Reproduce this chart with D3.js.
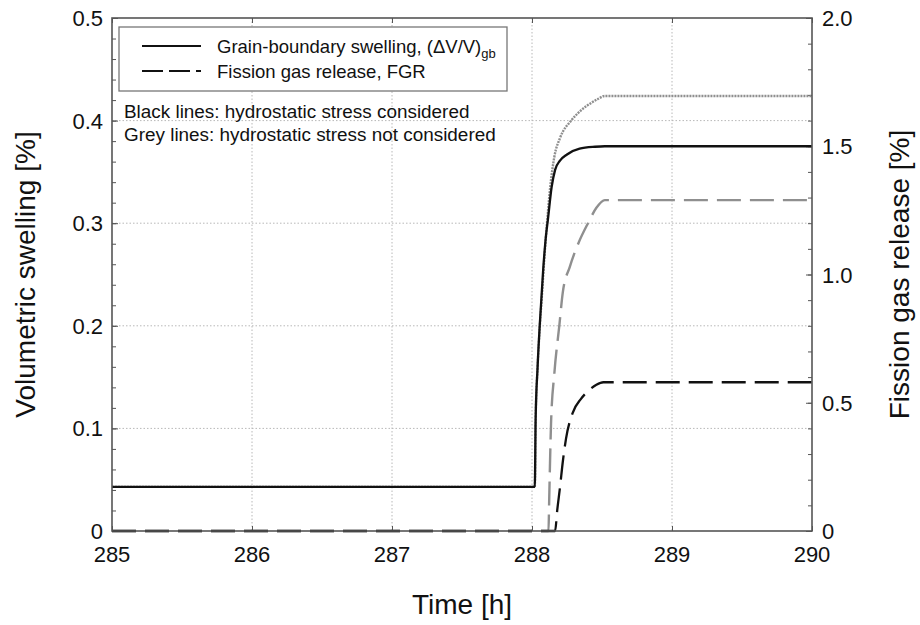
<!DOCTYPE html>
<html>
<head>
<meta charset="utf-8">
<script src="https://cdn.jsdelivr.net/npm/d3@7"></script>
<style>
  html, body { margin: 0; padding: 0; background: #fff; }
  svg { display: block; font-family: "Liberation Sans", Arial, Helvetica, sans-serif; }
</style>
</head>
<body>
<svg id="chart" width="920" height="625"></svg>
<script>
// ---------- data ----------
const timeTicks = [285, 286, 287, 288, 289, 290];
const swellTicks = [0, 0.1, 0.2, 0.3, 0.4, 0.5];
const swellTickLabels = ["0", "0.1", "0.2", "0.3", "0.4", "0.5"];
const fgrTicks = [0, 0.5, 1.0, 1.5, 2.0];
const fgrTickLabels = ["0", "0.5", "1.0", "1.5", "2.0"];

// Grain-boundary swelling, hydrostatic stress considered (black solid) [%]
const swellStressT = [285, 288.02, 288.026, 288.04, 288.055, 288.08, 288.1, 288.114, 288.14, 288.165, 288.2, 288.25, 288.34, 288.45, 288.52, 290];
const swellStressV = [0.043, 0.043, 0.109, 0.16, 0.2, 0.255, 0.288, 0.304, 0.335, 0.352, 0.361, 0.367, 0.3726, 0.3745, 0.375, 0.375];

// Grain-boundary swelling, hydrostatic stress not considered (grey solid) [%]
const swellNoStressT = [285, 288.02, 288.026, 288.04, 288.056, 288.07, 288.09, 288.107, 288.13, 288.16, 288.2, 288.28, 288.35, 288.42, 288.47, 288.52, 290];
const swellNoStressV = [0.043, 0.043, 0.109, 0.16, 0.2, 0.228, 0.27, 0.3, 0.335, 0.365, 0.383, 0.4, 0.41, 0.417, 0.421, 0.424, 0.424];

// Fission gas release, hydrostatic stress considered (black dashed) [%]
const fgrStressT = [285, 288.165, 288.18, 288.2, 288.22, 288.243, 288.29, 288.35, 288.41, 288.46, 288.51, 290];
const fgrStressV = [0, 0, 0.08, 0.17, 0.27, 0.36, 0.46, 0.515, 0.55, 0.57, 0.58, 0.58];

// Fission gas release, hydrostatic stress not considered (grey dashed) [%]
const fgrNoStressT = [285, 288.118, 288.122, 288.128, 288.136, 288.16, 288.195, 288.22, 288.27, 288.33, 288.4, 288.46, 288.52, 290];
const fgrNoStressV = [0, 0, 0.1, 0.25, 0.42, 0.617, 0.8, 0.93, 1.03, 1.12, 1.2, 1.26, 1.29, 1.29];

// ---------- layout ----------
const W = 920, H = 625;
const m = { left: 112, right: 108, top: 18, bottom: 94 };
const pw = W - m.left - m.right, ph = H - m.top - m.bottom;

const svg = d3.select("#chart");
svg.append("rect").attr("width", W).attr("height", H).attr("fill", "#fff");
const g = svg.append("g").attr("transform", `translate(${m.left},${m.top})`);

const x = d3.scaleLinear().domain([285, 290]).range([0, pw]);
const yL = d3.scaleLinear().domain([0, 0.5]).range([ph, 0]);
const yR = d3.scaleLinear().domain([0, 2.0]).range([ph, 0]);

// ---------- grid ----------
const gridCol = "#b8b8b8";
g.append("g").selectAll("line").data(timeTicks.slice(1, -1)).join("line")
  .attr("x1", d => x(d)).attr("x2", d => x(d)).attr("y1", 0).attr("y2", ph)
  .attr("stroke", gridCol).attr("stroke-width", 1).attr("stroke-dasharray", "1.5,2");
g.append("g").selectAll("line").data(swellTicks.slice(1, -1)).join("line")
  .attr("x1", 0).attr("x2", pw).attr("y1", d => yL(d)).attr("y2", d => yL(d))
  .attr("stroke", gridCol).attr("stroke-width", 1).attr("stroke-dasharray", "1.5,2");

// ---------- axes (ticks inward) ----------
const axCol = "#555";
function styleAxis(sel) {
  sel.select(".domain").remove();
  sel.selectAll(".tick line").attr("stroke", axCol).attr("stroke-width", 1);
  sel.selectAll("text").remove();
}
g.append("g").call(d3.axisRight(yL).tickValues(d3.range(0, 0.5001, 0.02)).tickSize(4)).call(styleAxis);
g.append("g").call(d3.axisRight(yL).tickValues(swellTicks).tickSize(6)).call(styleAxis);
g.append("g").attr("transform", `translate(${pw},0)`)
  .call(d3.axisLeft(yR).tickValues(d3.range(0, 2.0001, 0.1)).tickSize(4)).call(styleAxis);
g.append("g").attr("transform", `translate(${pw},0)`)
  .call(d3.axisLeft(yR).tickValues(fgrTicks).tickSize(6)).call(styleAxis);
g.append("g").attr("transform", `translate(0,${ph})`)
  .call(d3.axisTop(x).tickValues(timeTicks).tickSize(5)).call(styleAxis);
g.append("g").call(d3.axisBottom(x).tickValues(timeTicks).tickSize(5)).call(styleAxis);

// ---------- curves ----------
const lineL = d3.line().x(d => x(d[0])).y(d => yL(d[1])).curve(d3.curveMonotoneX);
const lineR = d3.line().x(d => x(d[0])).y(d => yR(d[1])).curve(d3.curveMonotoneX);
const zip = (a, b) => a.map((t, i) => [t, b[i]]);

const grey = "#8f8f8f";
g.append("path").datum(zip(fgrNoStressT, fgrNoStressV)).attr("d", lineR)
  .attr("fill", "none").attr("stroke", grey).attr("stroke-width", 2.4)
  .attr("stroke-dasharray", "24,9");
g.append("path").datum(zip(swellNoStressT, swellNoStressV)).attr("d", lineL)
  .attr("fill", "none").attr("stroke", grey).attr("stroke-width", 2.4)
  .attr("stroke-dasharray", "2,1");
g.append("path").datum(zip(fgrStressT, fgrStressV)).attr("d", lineR)
  .attr("fill", "none").attr("stroke", "#111").attr("stroke-width", 2.3)
  .attr("stroke-dasharray", "24,9");
g.append("path").datum(zip(swellStressT, swellStressV)).attr("d", lineL)
  .attr("fill", "none").attr("stroke", "#111").attr("stroke-width", 2.3);

// frame
g.append("rect").attr("width", pw).attr("height", ph)
  .attr("fill", "none").attr("stroke", axCol).attr("stroke-width", 1.6);

// ---------- tick labels ----------
const tickFont = 22;
g.append("g").selectAll("text").data(swellTicks).join("text")
  .attr("x", -9).attr("y", d => yL(d) + 8)
  .attr("text-anchor", "end").attr("font-size", tickFont).attr("fill", "#111")
  .text((d, i) => swellTickLabels[i]);
g.append("g").selectAll("text").data(fgrTicks).join("text")
  .attr("x", pw + 10).attr("y", d => yR(d) + 8)
  .attr("text-anchor", "start").attr("font-size", tickFont).attr("fill", "#111")
  .text((d, i) => fgrTickLabels[i]);
g.append("g").selectAll("text").data(timeTicks).join("text")
  .attr("x", d => x(d)).attr("y", ph + 31)
  .attr("text-anchor", "middle").attr("font-size", tickFont).attr("fill", "#111")
  .text(d => d);

// ---------- axis titles ----------
const titleFont = 28;
svg.append("text").attr("transform", `translate(35,${m.top + ph / 2}) rotate(-90)`)
  .attr("text-anchor", "middle").attr("font-size", titleFont).attr("fill", "#111")
  .text("Volumetric swelling [%]");
svg.append("text").attr("transform", `translate(909,${m.top + ph / 2}) rotate(-90)`)
  .attr("text-anchor", "middle").attr("font-size", titleFont).attr("fill", "#111")
  .text("Fission gas release [%]");
svg.append("text").attr("x", m.left + pw / 2).attr("y", 614)
  .attr("text-anchor", "middle").attr("font-size", titleFont).attr("fill", "#111")
  .text("Time [h]");

// ---------- legend ----------
const lg = svg.append("g");
lg.append("rect").attr("x", 119).attr("y", 27).attr("width", 388).attr("height", 64)
  .attr("fill", "#fff").attr("stroke", "#777").attr("stroke-width", 1.3);
lg.append("line").attr("x1", 142).attr("x2", 201).attr("y1", 46).attr("y2", 46)
  .attr("stroke", "#111").attr("stroke-width", 2);
lg.append("line").attr("x1", 142).attr("x2", 201).attr("y1", 71).attr("y2", 71)
  .attr("stroke", "#111").attr("stroke-width", 2).attr("stroke-dasharray", "21,6");
const t1 = lg.append("text").attr("x", 217).attr("y", 53).attr("font-size", 18.5).attr("fill", "#111");
t1.append("tspan").text("Grain-boundary swelling, (\u0394V/V)");
t1.append("tspan").attr("font-size", 13).attr("dy", 5).text("gb");
lg.append("text").attr("x", 217).attr("y", 78).attr("font-size", 18.5).attr("fill", "#111")
  .text("Fission gas release, FGR");

svg.append("text").attr("x", 124).attr("y", 118).attr("font-size", 18.9).attr("fill", "#111")
  .text("Black lines: hydrostatic stress considered");
svg.append("text").attr("x", 124).attr("y", 141).attr("font-size", 18.9).attr("fill", "#111")
  .text("Grey lines: hydrostatic stress not considered");
</script>
</body>
</html>
